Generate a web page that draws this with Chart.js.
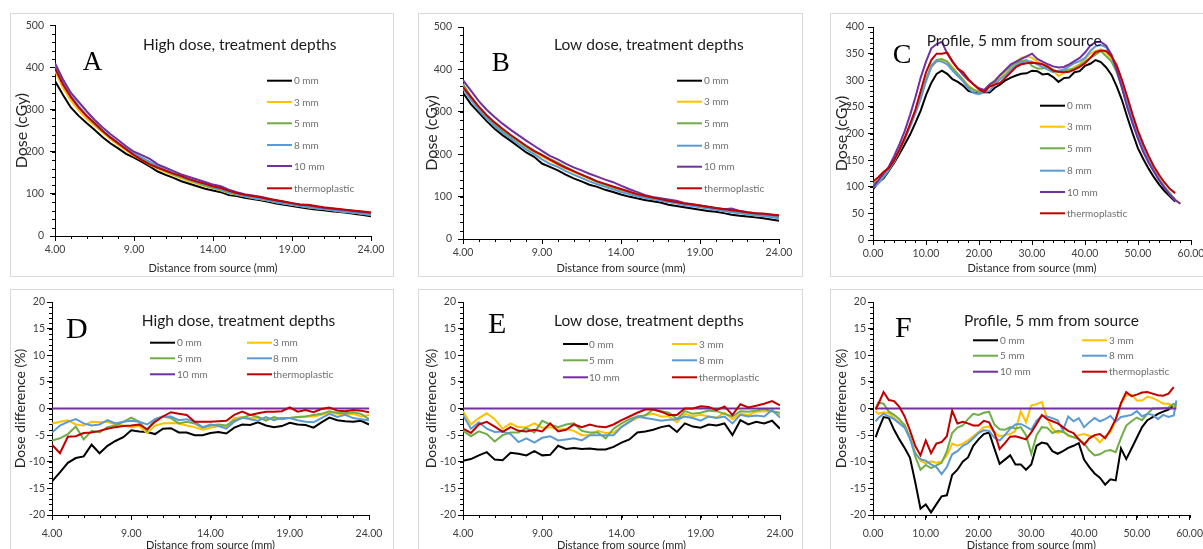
<!DOCTYPE html>
<html>
<head>
<meta charset="utf-8">
<script src="https://cdn.jsdelivr.net/npm/chart.js@4.4.1/dist/chart.umd.min.js"></script>
<style>
  html, body { margin: 0; padding: 0; background: #fff; width: 1203px; height: 549px; overflow: hidden; position: relative; }
  .box { position: absolute; border: 1px solid #d9d9d9; box-sizing: border-box; background: #fff; }
  canvas { position: absolute; }
</style>
</head>
<body>
<script>
// ---------- shared labels ----------
const seriesLabels = ['0 mm', '3 mm', '5 mm', '8 mm', '10 mm', 'thermoplastic'];

// ---------- tick labels ----------
const distanceTicks = [4, 9, 14, 19, 24];
const profileTicks = [0, 10, 20, 30, 40, 50, 60];
const doseTicksAB = [0, 100, 200, 300, 400, 500];
const doseTicksC = [0, 50, 100, 150, 200, 250, 300, 350, 400];
const diffTicks = [-20, -15, -10, -5, 0, 5, 10, 15, 20];

// ---------- x positions (mm) ----------
const depthDistance = [4, 4.5, 5, 5.5, 6, 6.5, 7, 7.5, 8, 8.5, 9, 9.5, 10, 10.5, 11, 11.5, 12, 12.5, 13, 13.5, 14, 14.5, 15, 15.5, 16, 16.5, 17, 17.5, 18, 18.5, 19, 19.5, 20, 20.5, 21, 21.5, 22, 22.5, 23, 23.5, 24];
const profileDistance = [0, 1, 2, 3, 4, 5, 6, 7, 8, 9, 10, 11, 12, 13, 14, 15, 16, 17, 18, 19, 20, 21, 22, 23, 24, 25, 26, 27, 28, 29, 30, 31, 32, 33, 34, 35, 36, 37, 38, 39, 40, 41, 42, 43, 44, 45, 46, 47, 48, 49, 50, 51, 52, 53, 54, 55, 56, 57, 58];
const profileDiffDistance = [0.5, 1, 2, 3, 4, 5, 6, 7, 8, 9, 10, 11, 12, 13, 14, 15, 16, 17, 18, 19, 20, 21, 22, 23, 24, 25, 26, 27, 28, 29, 30, 31, 32, 33, 34, 35, 36, 37, 38, 39, 40, 41, 42, 43, 44, 45, 46, 47, 48, 49, 50, 51, 52, 53, 54, 55, 56, 57, 57.5];

// ---------- A: high dose, dose (cGy) ----------
const highDose0 = [368, 335, 305, 285, 268, 252, 235, 220, 208, 195, 186, 176, 165, 153, 145, 138, 130, 124, 118, 112, 108, 104, 97, 95, 91, 88, 85, 81, 77, 74, 71, 68, 65, 63, 61, 59, 57, 55, 52, 50, 47];
const highDose3 = [392, 352, 322, 298, 278, 262, 246, 230, 216, 203, 190, 180, 169, 160, 151, 144, 137, 130, 124, 118, 113, 108, 102, 98, 94, 90, 87, 84, 80, 77, 74, 71, 68, 66, 64, 62, 59, 57, 55, 53, 51];
const highDose5 = [400, 360, 330, 305, 284, 266, 249, 233, 219, 206, 194, 183, 172, 163, 154, 146, 139, 132, 126, 120, 114, 109, 103, 99, 95, 91, 88, 85, 81, 78, 75, 72, 69, 67, 65, 62, 60, 58, 56, 53, 51];
const highDose8 = [405, 365, 333, 308, 287, 268, 251, 235, 221, 208, 196, 186, 176, 166, 157, 149, 141, 134, 128, 122, 116, 111, 104, 99, 95, 91, 88, 84, 80, 77, 74, 71, 68, 66, 64, 61, 59, 57, 55, 52, 50];
const highDose10 = [410, 372, 340, 318, 296, 276, 258, 242, 228, 213, 200, 192, 183, 170, 162, 154, 146, 140, 134, 128, 122, 118, 110, 104, 99, 96, 93, 89, 85, 81, 78, 75, 73, 70, 67, 65, 63, 61, 59, 57, 55];
const highDoseThermo = [398, 360, 330, 305, 285, 268, 250, 234, 220, 206, 192, 180, 170, 162, 155, 148, 142, 135, 129, 124, 118, 114, 107, 102, 98, 95, 92, 88, 85, 82, 78, 75, 74, 71, 68, 66, 64, 62, 60, 58, 56];

// ---------- B: low dose, dose (cGy) ----------
const lowDose0 = [345, 318, 298, 278, 260, 245, 232, 218, 204, 194, 178, 170, 162, 152, 143, 136, 128, 123, 116, 111, 105, 100, 96, 92, 89, 86, 81, 78, 75, 72, 69, 66, 64, 61, 57, 55, 53, 51, 49, 46, 43];
const lowDose3 = [362, 335, 310, 290, 272, 257, 243, 230, 216, 205, 195, 185, 175, 166, 158, 150, 142, 134, 127, 121, 115, 110, 104, 100, 96, 92, 88, 85, 82, 79, 76, 73, 70, 68, 66, 63, 60, 58, 56, 54, 52];
const lowDose5 = [366, 336, 310, 290, 270, 256, 243, 230, 217, 207, 199, 189, 180, 170, 160, 152, 143, 135, 128, 122, 116, 110, 104, 99, 95, 91, 88, 85, 82, 79, 76, 73, 70, 68, 65, 62, 60, 58, 55, 53, 50];
const lowDose8 = [355, 328, 304, 284, 266, 251, 238, 224, 211, 200, 188, 177, 170, 160, 152, 144, 136, 129, 123, 117, 111, 106, 101, 97, 94, 90, 87, 84, 80, 78, 75, 72, 69, 66, 63, 61, 58, 56, 54, 52, 49];
const lowDose10 = [375, 350, 325, 305, 288, 272, 258, 245, 232, 220, 208, 196, 188, 178, 169, 162, 154, 147, 140, 134, 126, 118, 111, 104, 99, 96, 93, 90, 85, 82, 79, 76, 73, 70, 72, 66, 63, 61, 59, 57, 55];
const lowDoseThermo = [358, 335, 312, 292, 275, 260, 246, 233, 220, 208, 198, 187, 177, 168, 160, 152, 144, 136, 130, 124, 118, 112, 106, 102, 98, 94, 90, 87, 84, 82, 79, 76, 73, 71, 68, 66, 63, 61, 60, 58, 56];

// ---------- C: profile 5 mm from source, dose (cGy) ----------
const profile0 = [95, 108, 116, 130, 145, 162, 180, 198, 220, 243, 272, 295, 312, 318, 312, 302, 297, 290, 280, 277, 276, 278, 277, 286, 292, 300, 305, 309, 312, 313, 318, 317, 311, 312, 306, 297, 304, 305, 315, 317, 327, 331, 338, 334, 324, 310, 288, 262, 230, 200, 172, 152, 134, 118, 104, 92, 82, 72, null];
const profile3 = [102, 110, 120, 133, 148, 168, 190, 214, 240, 268, 300, 325, 335, 338, 335, 325, 312, 302, 290, 283, 278, 280, 288, 295, 305, 315, 325, 335, 342, 345, 342, 335, 330, 325, 318, 308, 314, 318, 325, 330, 340, 350, 355, 358, 352, 340, 322, 296, 262, 230, 200, 175, 152, 132, 116, 100, 86, 76, 68];
const profile5 = [105, 112, 122, 135, 150, 170, 192, 215, 240, 268, 302, 328, 338, 340, 335, 322, 312, 300, 288, 282, 278, 282, 292, 300, 310, 318, 326, 332, 336, 338, 327, 322, 322, 325, 320, 315, 318, 320, 322, 328, 335, 342, 348, 355, 345, 335, 315, 285, 252, 222, 195, 170, 148, 130, 114, 100, 88, 76, null];
const profile8 = [98, 106, 118, 132, 148, 168, 190, 213, 238, 265, 298, 325, 336, 335, 330, 318, 308, 298, 285, 276, 274, 278, 280, 292, 302, 310, 320, 328, 333, 336, 335, 330, 325, 320, 315, 318, 320, 326, 332, 336, 342, 355, 364, 366, 362, 345, 320, 290, 258, 226, 198, 172, 150, 130, 114, 100, 86, 74, null];
const profile10 = [100, 112, 125, 138, 158, 180, 205, 235, 268, 305, 335, 360, 368, 372, 350, 335, 322, 310, 300, 292, 285, 282, 292, 298, 310, 320, 330, 335, 340, 345, 350, 340, 335, 330, 326, 324, 325, 330, 336, 342, 352, 365, 372, 372, 365, 348, 318, 285, 248, 218, 190, 165, 145, 128, 112, 98, 85, 75, 68];
const profileThermo = [110, 118, 128, 135, 150, 170, 192, 218, 245, 280, 315, 338, 350, 350, 352, 335, 322, 315, 302, 292, 283, 278, 288, 292, 295, 305, 315, 325, 330, 332, 333, 332, 330, 325, 318, 316, 315, 316, 320, 325, 332, 342, 353, 356, 355, 345, 328, 300, 268, 235, 205, 180, 158, 138, 122, 108, 96, 88, null];

// ---------- D: high dose, difference from 10 mm (%) ----------
const highDiff0 = [-13.7, -12.0, -10.2, -9.3, -9.0, -6.8, -8.4, -7.0, -6.1, -5.4, -4.1, -4.3, -4.4, -4.8, -3.8, -3.7, -4.5, -4.5, -5.0, -5.0, -4.6, -4.4, -4.7, -3.6, -3.0, -3.1, -2.6, -3.2, -3.5, -3.3, -2.7, -3.0, -3.1, -3.6, -2.6, -1.7, -2.2, -2.4, -2.5, -2.3, -3.0];
const highDiff3 = [-2.8, -2.5, -2.2, -3.0, -3.2, -2.5, -2.6, -2.5, -3.0, -3.2, -3.5, -3.3, -4.6, -3.2, -2.8, -2.7, -2.8, -3.2, -3.5, -4.0, -3.6, -3.3, -3.5, -1.8, -1.6, -1.8, -1.7, -2.0, -1.8, -1.8, -1.8, -1.6, -1.5, -1.5, -1.2, -0.8, -1.0, -1.2, -1.0, -1.5, -1.2];
const highDiff5 = [-6.0, -5.6, -4.8, -3.4, -5.8, -4.2, -4.5, -3.5, -3.2, -2.5, -1.7, -2.5, -4.2, -2.0, -1.5, -1.8, -2.8, -2.5, -2.8, -3.6, -3.2, -3.0, -3.2, -2.2, -1.8, -1.2, -1.6, -2.3, -1.6, -2.0, -1.8, -1.6, -1.5, -1.2, -1.0, -0.5, -0.8, -0.9, -0.7, -1.0, -2.0];
const highDiff8 = [-4.5, -3.2, -2.5, -2.0, -2.8, -3.2, -3.0, -2.2, -2.8, -2.5, -2.3, -2.5, -3.0, -2.0, -1.5, -1.5, -2.2, -2.0, -2.5, -3.5, -3.0, -3.3, -3.8, -2.5, -1.7, -2.0, -2.3, -1.6, -2.2, -1.8, -1.8, -2.2, -2.5, -2.6, -1.8, -1.0, -1.6, -1.2, -1.8, -2.0, -2.2];
const highDiff10 = [0, 0, 0, 0, 0, 0, 0, 0, 0, 0, 0, 0, 0, 0, 0, 0, 0, 0, 0, 0, 0, 0, 0, 0, 0, 0, 0, 0, 0, 0, 0, 0, 0, 0, 0, 0, 0, 0, 0, 0, 0];
const highDiffThermo = [-6.8, -8.4, -5.3, -5.2, -4.6, -4.5, -4.2, -3.8, -3.5, -3.3, -3.2, -3.0, -3.9, -2.5, -1.5, -0.7, -1.0, -1.2, -2.5, -2.5, -2.5, -2.4, -2.3, -1.2, -0.6, -1.2, -0.9, -0.6, -0.6, -0.5, 0.2, -0.6, -0.3, -0.7, -0.1, 0.2, -0.4, -0.5, -0.3, -0.4, -0.7];

// ---------- E: low dose, difference from 10 mm (%) ----------
const lowDiff0 = [-9.8, -9.5, -8.8, -8.2, -9.6, -9.7, -8.3, -8.5, -8.8, -8.0, -8.8, -8.7, -7.0, -7.6, -7.4, -7.6, -7.5, -7.7, -7.7, -7.2, -6.4, -5.8, -4.5, -4.3, -4.0, -3.5, -3.2, -4.4, -2.8, -3.4, -3.6, -3.0, -3.2, -2.8, -5.0, -2.2, -3.0, -2.5, -2.8, -2.3, -3.8];
const lowDiff3 = [-0.5, -3.0, -1.8, -0.9, -2.0, -3.8, -2.8, -3.5, -3.5, -2.8, -3.6, -3.5, -4.0, -3.8, -4.2, -5.0, -5.0, -4.2, -4.6, -4.5, -3.4, -2.5, -1.8, -1.2, -1.0, -1.5, -1.5, -2.6, -1.0, -1.5, -1.2, -1.5, -1.7, -0.8, -2.0, -1.0, -1.2, -0.6, -0.5, -0.5, -1.3];
const lowDiff5 = [-4.2, -5.2, -4.3, -4.8, -6.2, -5.0, -4.5, -4.5, -3.7, -4.5, -2.3, -3.0, -3.5, -3.0, -2.8, -4.2, -4.5, -4.5, -5.6, -3.8, -2.8, -2.0, -1.5, -1.3, -0.2, -0.5, -0.8, -2.0, -0.5, -1.0, -0.8, -0.4, -0.5, -1.0, -1.5, -0.5, -0.6, -0.4, -0.1, -0.5, -0.8];
const lowDiff8 = [-1.2, -3.8, -2.6, -3.8, -4.4, -4.3, -4.8, -6.3, -5.6, -6.4, -5.5, -5.2, -6.0, -5.8, -5.6, -6.0, -5.0, -5.0, -5.0, -5.0, -3.5, -2.5, -1.5, -1.8, -2.0, -2.3, -2.1, -2.0, -1.5, -1.8, -2.3, -1.5, -1.8, -1.5, -2.8, -1.2, -1.5, -1.3, -1.5, -0.3, -1.7];
const lowDiff10 = [0, 0, 0, 0, 0, 0, 0, 0, 0, 0, 0, 0, 0, 0, 0, 0, 0, 0, 0, 0, 0, 0, 0, 0, 0, 0, 0, 0, 0, 0, 0, 0, 0, 0, 0, 0, 0, 0, 0, 0, 0];
const lowDiffThermo = [-3.8, -4.6, -3.0, -2.5, -3.4, -4.4, -3.5, -4.2, -4.3, -4.0, -4.3, -2.8, -4.3, -4.0, -3.0, -3.5, -3.0, -3.4, -3.5, -3.0, -2.2, -1.5, -0.8, -0.2, -0.2, -0.6, -1.2, -1.2, 0.0, 0.0, 0.4, 0.3, -0.3, 0.4, -1.2, 0.8, 0.2, 0.5, 0.9, 1.4, 0.6];

// ---------- F: profile, difference from 10 mm (%) ----------
const profileDiff0 = [-5.4, -4.0, -1.6, -1.8, -4.0, -5.8, -7.4, -9.2, -13.8, -18.8, -18.0, -19.5, -18.0, -16.5, -16.3, -12.5, -11.5, -10.0, -9.2, -7.0, -5.8, -4.8, -4.5, -7.5, -10.4, -9.6, -8.8, -10.5, -10.5, -11.5, -10.5, -7.0, -6.4, -6.6, -8.0, -8.5, -8.0, -7.4, -7.0, -6.5, -9.6, -11.0, -12.2, -13.0, -14.3, -13.3, -13.5, -7.5, -9.5, -7.5, -5.5, -3.5, -2.2, -1.6, -1.0, -0.6, -0.2, 0.6, null];
const profileDiff3 = [-0.5, -1.0, -0.7, -0.9, -1.8, -2.6, -3.0, -5.4, -8.2, -9.8, -10.3, -9.9, -10.2, -10.0, -8.8, -6.6, -7.0, -6.6, -6.0, -5.2, -4.4, -3.5, -3.4, -4.5, -5.2, -5.0, -4.8, -4.2, -0.5, -2.6, 0.6, 0.8, 1.2, -1.8, -3.8, -4.6, -4.1, -5.2, -5.4, -5.0, -4.8, -5.1, -5.3, -6.4, -5.2, -4.5, -2.2, 0.8, 2.5, 2.6, 1.5, 1.5, 2.2, 2.0, 1.5, 0.9, 0.9, 0.5, 0.2];
const profileDiff5 = [0.0, 1.1, 0.9, -0.6, -1.2, -2.0, -3.2, -5.4, -9.0, -11.5, -10.6, -11.2, -10.7, -10.2, -8.0, -4.6, -3.6, -3.2, -2.0, -1.0, -1.2, -0.8, -0.6, -3.0, -3.9, -4.0, -3.5, -3.8, -3.5, -5.0, -8.5, -5.0, -3.5, -3.6, -4.6, -4.2, -4.4, -5.0, -5.4, -5.7, -6.5, -7.9, -8.8, -8.6, -8.0, -7.8, -8.2, -5.5, -3.2, -2.4, -1.7, -2.2, -1.0, 0.0, 0.0, 0.1, 0.2, 0.9, 0.5];
const profileDiff8 = [-2.4, -1.8, -1.0, -1.5, -2.0, -2.8, -3.6, -5.7, -8.5, -9.5, -9.8, -10.5, -11.0, -12.3, -11.0, -8.6, -8.0, -7.0, -6.5, -5.6, -4.6, -4.1, -4.2, -5.5, -6.0, -5.0, -3.8, -3.0, -2.9, -3.4, -4.0, -2.3, -1.4, -1.5, -1.8, -2.2, -4.1, -1.5, -2.4, -1.8, -3.5, -2.6, -1.8, -2.4, -2.0, -1.4, -2.5, -1.6, -1.4, -1.2, -0.5, -1.5, -1.0, -1.2, -2.0, -1.2, -1.6, -1.3, 1.5];
const profileDiff10 = [0, 0, 0, 0, 0, 0, 0, 0, 0, 0, 0, 0, 0, 0, 0, 0, 0, 0, 0, 0, 0, 0, 0, 0, 0, 0, 0, 0, 0, 0, 0, 0, 0, 0, 0, 0, 0, 0, 0, 0, 0, 0, 0, 0, 0, 0, 0, 0, 0, 0, 0, 0, 0, 0, 0, 0, 0, 0, 0];
const profileDiffThermo = [-0.2, 0.8, 3.1, 1.6, 1.4, 0.3, -1.5, -4.1, -7.0, -8.8, -6.0, -8.4, -6.6, -6.3, -5.2, -0.4, -2.8, -2.5, -2.8, -3.2, -3.2, -2.3, -2.6, -4.5, -7.6, -6.5, -5.3, -5.2, -5.5, -5.8, -4.5, -2.9, -1.2, -2.0, -2.4, -2.8, -3.5, -4.2, -4.6, -5.8, -6.8, -5.6, -5.0, -4.8, -5.6, -4.0, -2.0, 1.0, 3.1, 2.3, 2.6, 3.0, 3.1, 2.8, 2.5, 2.4, 2.8, 4.0, null];

// ---------- styling ----------
const seriesColors = ['#000000', '#FFC000', '#70AD47', '#5B9BD5', '#7030A0', '#C00000'];
const FONT = 'Lato';
Chart.defaults.font.family = FONT;

const xTitle = 'Distance from source (mm)';

const panels = [
  { letter: 'A', title: 'High dose, treatment depths', yTitle: 'Dose (cGy)', yTitleSize: 16,
    xs: depthDistance, series: [highDose0, highDose3, highDose5, highDose8, highDose10, highDoseThermo],
    xTicks: distanceTicks, yTicks: doseTicksAB, minorX: 1, minorY: 20,
    box: [10, 13, 384, 264], left: 10, top: 13, w: 383, h: 264, area: { l: 45, t: 10, r: 361, b: 223 },
    xLabelPad: 2, xTitlePad: 2.4, yLabelPad: 6, yTitlePad: 2.1,
    titlePos: [133, 32], letterPos: [72.7, 57], letterSize: 27,
    legend: { cols: [{ line: 257, text: 284 }], rows: [67.7, 89, 110.3, 132, 153, 175.3] } },
  { letter: 'B', title: 'Low dose, treatment depths', yTitle: 'Dose (cGy)', yTitleSize: 16,
    xs: depthDistance, series: [lowDose0, lowDose3, lowDose5, lowDose8, lowDose10, lowDoseThermo],
    xTicks: distanceTicks, yTicks: doseTicksAB, minorX: 1, minorY: 20,
    box: [418, 13, 385, 264], left: 418, top: 13, w: 384, h: 264, area: { l: 45, t: 14, r: 361, b: 226 },
    xLabelPad: 2, xTitlePad: 2, yLabelPad: 6, yTitlePad: 4.1,
    titlePos: [136, 32], letterPos: [73.7, 57.7], letterSize: 27,
    legend: { cols: [{ line: 259, text: 286 }], rows: [67.7, 88.7, 110.3, 132.7, 153.7, 175.3] } },
  { letter: 'C', title: 'Profile, 5 mm from source', yTitle: 'Dose (cGy)', yTitleSize: 16,
    xs: profileDistance, series: [profile0, profile3, profile5, profile8, profile10, profileThermo],
    xTicks: profileTicks, yTicks: doseTicksC, minorX: 2, minorY: 10,
    box: [830, 13, 400, 264], left: 830, top: 13, w: 380, h: 264, area: { l: 43, t: 14, r: 361, b: 227 },
    xLabelPad: 2, xTitlePad: 2, yLabelPad: 4, yTitlePad: 2.1,
    titlePos: [96.7, 27.7], letterPos: [62.7, 50], letterSize: 28,
    legend: { cols: [{ line: 210, text: 237 }], rows: [92.7, 113.7, 135.3, 157.7, 179, 200.3] } },
  { letter: 'D', title: 'High dose, treatment depths', yTitle: 'Dose difference (%)', yTitleSize: 14,
    xs: depthDistance, series: [highDiff0, highDiff3, highDiff5, highDiff8, highDiff10, highDiffThermo],
    xTicks: distanceTicks, yTicks: diffTicks, minorX: 1, minorY: 1,
    box: [10, 289, 384, 300], left: 10, top: 289, w: 383, h: 272, area: { l: 42, t: 13, r: 359, b: 226 },
    xLabelPad: 7, xTitlePad: 9.4, yLabelPad: 2, yTitlePad: 2.3,
    titlePos: [131.7, 31.7], letterPos: [56, 49.3], letterSize: 30,
    legend: { cols: [{ line: 140, text: 167 }, { line: 237, text: 263 }], rows: [53.7, 69.3, 85.3] } },
  { letter: 'E', title: 'Low dose, treatment depths', yTitle: 'Dose difference (%)', yTitleSize: 14,
    xs: depthDistance, series: [lowDiff0, lowDiff3, lowDiff5, lowDiff8, lowDiff10, lowDiffThermo],
    xTicks: distanceTicks, yTicks: diffTicks, minorX: 1, minorY: 1,
    box: [418, 289, 385, 300], left: 418, top: 289, w: 384, h: 272, area: { l: 45, t: 13, r: 362, b: 226 },
    xLabelPad: 7, xTitlePad: 9.4, yLabelPad: 2, yTitlePad: 5.3,
    titlePos: [136, 31.7], letterPos: [70, 44.3], letterSize: 30,
    legend: { cols: [{ line: 145, text: 171 }, { line: 254, text: 281 }], rows: [55, 71.3, 88.3] } },
  { letter: 'F', title: 'Profile, 5 mm from source', yTitle: 'Dose difference (%)', yTitleSize: 14,
    xs: profileDiffDistance, series: [profileDiff0, profileDiff3, profileDiff5, profileDiff8, profileDiff10, profileDiffThermo],
    xTicks: profileTicks, yTicks: diffTicks, minorX: 2, minorY: 1,
    box: [830, 289, 400, 300], left: 830, top: 289, w: 380, h: 272, area: { l: 43, t: 13, r: 360, b: 226 },
    xLabelPad: 7, xTitlePad: 9.4, yLabelPad: 2, yTitlePad: 3.3,
    titlePos: [134, 31.7], letterPos: [65, 47.7], letterSize: 30,
    legend: { cols: [{ line: 143, text: 170 }, { line: 252, text: 279 }], rows: [51.3, 66.7, 82.7] } }
];

// Draws minor tick marks, the in-plot legend, the panel heading and the panel letter.
function makeDecor(p) {
  return {
    id: 'panelDecor',
    afterDraw(chart) {
      const ctx = chart.ctx;
      const xs = chart.scales.x, ys = chart.scales.y;
      ctx.save();
      ctx.strokeStyle = '#000';
      ctx.lineWidth = 1;
      ctx.beginPath();
      const nx = Math.round((xs.max - xs.min) / p.minorX);
      for (let k = 0; k <= nx; k++) {
        const px = Math.round(xs.getPixelForValue(xs.min + k * p.minorX)) + 0.5;
        ctx.moveTo(px, xs.top);
        ctx.lineTo(px, xs.top + 3);
      }
      const ny = Math.round((ys.max - ys.min) / p.minorY);
      for (let k = 0; k <= ny; k++) {
        const py = Math.round(ys.getPixelForValue(ys.min + k * p.minorY)) + 0.5;
        ctx.moveTo(ys.right - 3, py);
        ctx.lineTo(ys.right, py);
      }
      ctx.stroke();

      // legend
      const nCols = p.legend.cols.length;
      ctx.font = '10px ' + FONT;
      ctx.textBaseline = 'middle';
      ctx.textAlign = 'left';
      chart.data.datasets.forEach((ds, i) => {
        const col = p.legend.cols[i % nCols];
        const y = p.legend.rows[Math.floor(i / nCols)];
        ctx.strokeStyle = ds.borderColor;
        ctx.lineWidth = 2;
        ctx.beginPath();
        ctx.moveTo(col.line, y);
        ctx.lineTo(col.line + 25, y);
        ctx.stroke();
        ctx.fillStyle = '#6e6e6e';
        ctx.fillText(ds.label, col.text, y + 0.5);
      });

      // heading
      ctx.fillStyle = '#1a1a1a';
      ctx.font = '15.5px ' + FONT;
      ctx.textBaseline = 'middle';
      ctx.fillText(p.title, p.titlePos[0], p.titlePos[1]);

      // panel letter
      ctx.font = p.letterSize + 'px "Liberation Serif"';
      ctx.textBaseline = 'alphabetic';
      ctx.fillStyle = '#000';
      ctx.fillText(p.letter, p.letterPos[0], p.letterPos[1]);
      ctx.restore();
    }
  };
}

function tickList(values) {
  return (scale) => { scale.ticks = values.map(v => ({ value: v })); };
}

panels.forEach(p => {
  const box = document.createElement('div');
  box.className = 'box';
  box.style.cssText = `left:${p.box[0]}px;top:${p.box[1]}px;width:${p.box[2]}px;height:${p.box[3]}px;`;
  document.body.appendChild(box);

  const cv = document.createElement('canvas');
  cv.width = p.w;
  cv.height = p.h;
  cv.style.cssText = `left:${p.left}px;top:${p.top}px;width:${p.w}px;height:${p.h}px;`;
  document.body.appendChild(cv);

  const n = p.series.length;
  const datasets = p.series.map((ys, i) => ({
    label: seriesLabels[i],
    data: ys.map((y, k) => ({ x: p.xs[k], y })),
    borderColor: seriesColors[i],
    backgroundColor: seriesColors[i],
    borderWidth: 2,
    pointRadius: 0,
    tension: 0,
    fill: false,
    order: n - i
  }));

  const axisGrid = { display: true, drawOnChartArea: false, drawTicks: true, tickLength: 5, color: '#000', lineWidth: 1 };
  const axisBorder = { display: true, color: '#000', width: 1 };

  new Chart(cv, {
    type: 'line',
    data: { datasets },
    plugins: [makeDecor(p)],
    options: {
      responsive: false,
      animation: false,
      devicePixelRatio: 1,
      events: [],
      layout: { padding: { left: 0, top: p.area.t, right: p.w - p.area.r, bottom: 0 } },
      plugins: { legend: { display: false }, tooltip: { enabled: false }, title: { display: false } },
      scales: {
        x: {
          type: 'linear',
          min: p.xTicks[0],
          max: p.xTicks[p.xTicks.length - 1],
          afterBuildTicks: tickList(p.xTicks),
          afterFit: (s) => { s.height = p.h - p.area.b; },
          ticks: { autoSkip: false, maxRotation: 0, color: '#404040', font: { size: 10.5 }, padding: p.xLabelPad,
                   callback: (v) => Number(v).toFixed(2) },
          grid: axisGrid,
          border: axisBorder,
          title: { display: true, text: xTitle, color: '#262626', font: { size: 11 }, padding: { top: 0, bottom: p.xTitlePad } }
        },
        y: {
          type: 'linear',
          min: p.yTicks[0],
          max: p.yTicks[p.yTicks.length - 1],
          afterBuildTicks: tickList(p.yTicks),
          afterFit: (s) => { s.width = p.area.l; },
          ticks: { autoSkip: false, color: '#404040', font: { size: 10.5 }, padding: p.yLabelPad,
                   callback: (v) => String(v) },
          grid: axisGrid,
          border: axisBorder,
          title: { display: true, text: p.yTitle, color: '#262626', font: { size: p.yTitleSize }, padding: { top: p.yTitlePad, bottom: 0 } }
        }
      }
    }
  });
});
</script>
</body>
</html>
